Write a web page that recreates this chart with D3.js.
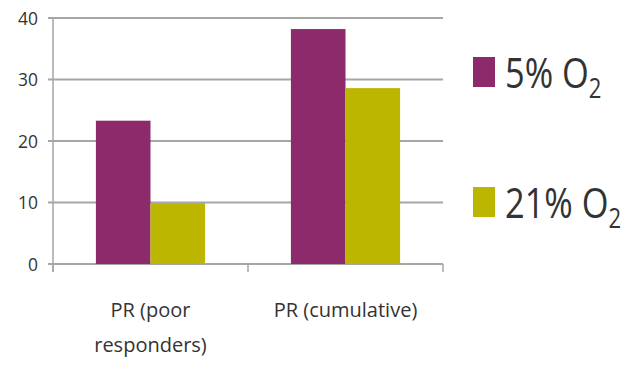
<!DOCTYPE html>
<html>
<head>
<meta charset="utf-8">
<script src="https://cdn.jsdelivr.net/npm/d3@7"></script>
<style>
  html, body { margin: 0; padding: 0; background: #fff; }
  svg { display: block; font-family: "Open Sans", sans-serif; }
</style>
</head>
<body>
<svg id="chart" width="631" height="366"></svg>
<script>
// Data
const categories = [["PR (poor", "responders)"], ["PR (cumulative)"]];
const categoryKeys = ["poor", "cumulative"];
const seriesNames = ["5% O", "21% O"];
const seriesColors = ["#8c2a6c", "#bdb600"];
const values5 = [23.3, 38.2];
const values21 = [9.9, 28.6];
const yTicks = [0, 10, 20, 30, 40];

const seriesValues = [values5, values21];

const svg = d3.select("#chart");
const plot = { left: 53, right: 443, top: 18, bottom: 264 };

const x0 = d3.scaleBand()
  .domain(categoryKeys)
  .range([plot.left, plot.right])
  .paddingInner(0.44)
  .paddingOuter(0.22);

const x1 = d3.scaleBand()
  .domain(d3.range(seriesNames.length))
  .range([0, x0.bandwidth()]);

const y = d3.scaleLinear().domain([0, 40]).range([plot.bottom, plot.top]);

const gridColor = "#a6a6a6";
const textColor = "#333";

// Horizontal gridlines
svg.append("g")
  .selectAll("line")
  .data(yTicks)
  .join("line")
  .attr("x1", plot.left - 5)
  .attr("x2", plot.right)
  .attr("y1", d => y(d))
  .attr("y2", d => y(d))
  .attr("stroke", gridColor)
  .attr("stroke-width", 2);

// Vertical axis line
svg.append("line")
  .attr("x1", plot.left).attr("x2", plot.left)
  .attr("y1", plot.top).attr("y2", plot.bottom + 8)
  .attr("stroke", gridColor).attr("stroke-width", 1.5);

// Category separator ticks below the baseline
const sepX = [plot.left, x0(categoryKeys[1]) - x0.step() * x0.paddingInner() / 2, plot.right];
svg.append("g")
  .selectAll("line")
  .data(sepX)
  .join("line")
  .attr("x1", d => d).attr("x2", d => d)
  .attr("y1", plot.bottom).attr("y2", plot.bottom + 8)
  .attr("stroke", gridColor).attr("stroke-width", 1.5);

// Y tick labels
svg.append("g")
  .selectAll("text")
  .data(yTicks)
  .join("text")
  .attr("transform", d => `translate(38,${y(d)}) scale(0.92,1)`)
  .attr("text-anchor", "end")
  .attr("dy", "0.36em")
  .attr("font-size", 19)
  .attr("fill", textColor)
  .text(d => d);

// Bars
const groups = svg.append("g")
  .selectAll("g")
  .data(categoryKeys)
  .join("g")
  .attr("transform", d => `translate(${x0(d)},0)`);

groups.selectAll("rect")
  .data((d, ci) => seriesValues.map((vals, si) => ({ si, v: vals[ci] })))
  .join("rect")
  .attr("x", d => x1(d.si))
  .attr("width", x1.bandwidth())
  .attr("y", d => y(d.v))
  .attr("height", d => y(0) - y(d.v))
  .attr("fill", d => seriesColors[d.si]);

// Category labels
const catLabels = svg.append("g")
  .selectAll("text")
  .data(categoryKeys)
  .join("text")
  .attr("text-anchor", "middle")
  .attr("font-size", 20)
  .attr("fill", textColor)
  .attr("x", d => x0(d) + x0.bandwidth() / 2)
  .attr("y", 317);

catLabels.selectAll("tspan")
  .data((d, i) => categories[i])
  .join("tspan")
  .attr("x", function () { return d3.select(this.parentNode).attr("x"); })
  .attr("dy", (d, i) => i === 0 ? 0 : 35)
  .text(d => d);

// Legend
const legend = svg.append("g")
  .selectAll("g")
  .data(seriesNames)
  .join("g")
  .attr("transform", (d, i) => `translate(473,${57 + i * 130})`);

legend.append("rect")
  .attr("width", 22)
  .attr("height", 30)
  .attr("fill", (d, i) => seriesColors[i]);

const legText = legend.append("text")
  .attr("transform", "translate(32,31) scale(0.82,1)")
  .attr("font-size", 42)
  .attr("fill", textColor);

legText.append("tspan").text(d => d);
legText.append("tspan")
  .attr("font-size", 27)
  .attr("dy", 10)
  .text("2");
</script>
</body>
</html>
